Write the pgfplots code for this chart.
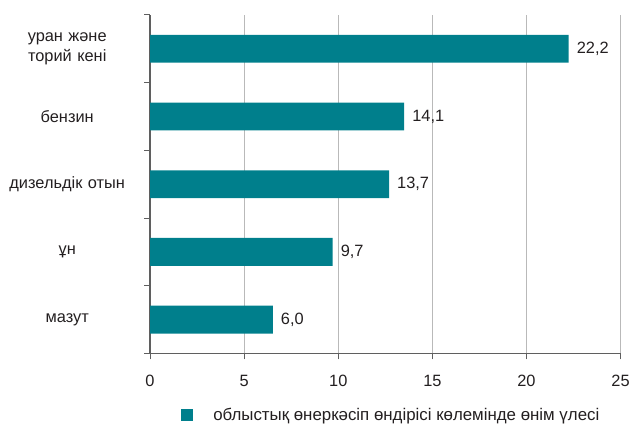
\documentclass[border=0pt]{standalone}
\usepackage{fontspec}
\setmainfont{Liberation Sans}
\usepackage{pgfplots}
\usepackage{pgfplotstable}
\pgfplotsset{compat=1.18}
\definecolor{barteal}{RGB}{0,127,140}
\definecolor{txt}{RGB}{35,31,32}
\definecolor{gridc}{RGB}{185,185,185}
\definecolor{axc}{RGB}{95,95,95}

\pgfplotstableread{
y len lab
4 22.24 22,2
3 13.5 14,1
2 12.7 13,7
1 9.7 9,7
0 6.52 6,0
}\data

\begin{document}
\begin{tikzpicture}[font=\fontsize{16.5}{19.5}\selectfont]
\begin{axis}[
  name=ax, at={(0,0)}, anchor=south west,
  width=472.6bp, height=340bp, scale only axis,
  xbar, bar width=28bp,
  xmin=0, xmax=25, xtick={0,5,...,25},
  ymin=-0.5, ymax=4.5,
  ytick={0,...,4},
  yticklabels={мазут,ұн,{дизельдік отын},бензин,{уран және\\торий кені}},
  minor ytick={-0.5,0.5,...,4.5},
  axis x line*=bottom, axis y line*=left,
  axis line style={draw=axc, line width=1.2bp, -},
  xmajorgrids, grid style={draw=gridc, line width=0.9bp},
  tick align=outside,
  major tick length=6bp, minor tick length=6bp,
  major y tick style={draw=none},
  minor y tick style={draw=axc, line width=1bp},
  major x tick style={draw=axc, line width=1bp},
  /pgf/number format/assume math mode=true,
  tick label style={text=txt, font=\fontsize{16.5}{19.5}\selectfont},
  yticklabel style={align=center, text width=122bp, inner sep=0pt, xshift=-16bp},
  xticklabel style={yshift=-12bp},
  point meta=explicit symbolic,
  nodes near coords,
  every node near coord/.append style={anchor=west, inner sep=0pt, xshift=8bp, text=txt, font=\fontsize{16.5}{19.5}\selectfont},
  legend style={at={(0.0662,-0.181)}, anchor=west, draw=none, fill=none, inner sep=0pt,
    nodes={inner sep=0pt, text=txt, font=\fontsize{17}{20}\selectfont}},
  legend cell align=left,
]
\addplot[fill=barteal, draw=none,
  legend image code/.code={\fill[barteal, draw=none] (0bp,-6bp) rectangle (12bp,6bp); \path[draw=none, fill=none] (0bp,0bp) rectangle (32bp,0.1bp);}]
  table[x=len, y=y, meta=lab] {\data};
\addlegendentry{облыстық өнеркәсіп өндірісі көлемінде өнім үлесі}
\end{axis}
\path (ax.south west) ++(-150.7bp,-70bp) rectangle ++(633bp,425bp);
\end{tikzpicture}
\end{document}
